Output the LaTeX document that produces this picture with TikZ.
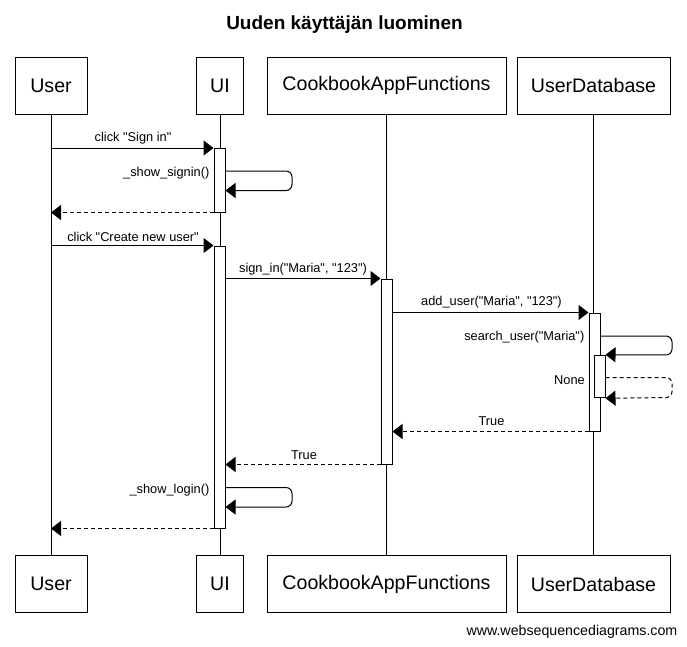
\documentclass[tikz,border=0pt]{standalone}
\usepackage{fontspec}
\setmainfont{Liberation Sans}[Ligatures=TeXOff]
\usetikzlibrary{arrows.meta}
\begin{document}
\begin{tikzpicture}[x=1pt,y=-1pt,
  every node/.style={font=\fontsize{12.8}{14}\selectfont, inner sep=0pt},
  part/.style={draw, line width=1pt, fill=white, minimum height=56.5pt, font=\fontsize{19.6}{22}\selectfont},
  act/.style={draw, line width=1pt, fill=white, minimum width=11pt},
  msg/.style={line width=1pt, -{Triangle[length=10pt,width=15pt]}},
  ret/.style={msg, dash pattern=on 4pt off 3pt},
  life/.style={line width=1pt},
  lbl/.style={anchor=center},
  lblr/.style={anchor=east}]
\useasboundingbox (0,0) rectangle (687,646);
\fill[white] (0,0) rectangle (687,646);

\node[font=\bfseries\fontsize{19}{22}\selectfont] (title) at (344.5,25) {Uuden käyttäjän luominen};

% participants
\node[part, minimum width=72pt]  (userT) at (51,85.8) {User};
\node[part, minimum width=47pt]  (uiT)   at (220,85.8) {UI};
\node[part, minimum width=239pt] (cookT) at (386.5,85.8) {CookbookAppFunctions};
\node[part, minimum width=153pt] (dbT)   at (593.5,85.8) {UserDatabase};
\node[part, minimum width=72pt]  (userB) at (51,584) {User};
\node[part, minimum width=47pt]  (uiB)   at (220,584) {UI};
\node[part, minimum width=239pt] (cookB) at (386.5,584) {CookbookAppFunctions};
\node[part, minimum width=153pt] (dbB)   at (593.5,584) {UserDatabase};

% lifelines
\draw[life] (userT.south) -- (userB.north);
\draw[life] (uiT.south) -- (uiB.north);
\draw[life] (cookT.south) -- (cookB.north);
\draw[life] (dbT.south) -- (dbB.north);

% activations
\node[act, minimum height=63.5pt]  (a1) at (219.5,180.25) {};
\node[act, minimum height=282pt]   (a2) at (219.5,387) {};
\node[act, minimum height=185pt]   (a3) at (386.5,371.5) {};
\node[act, minimum height=118pt]   (a4) at (594.5,372) {};
\node[act, minimum height=42.5pt]  (a5) at (599.5,376.5) {};

% loop turning points
\coordinate (l1a) at (292,171);
\coordinate (l1b) at (292,190.5);
\coordinate (l2a) at (672,336);
\coordinate (l2b) at (672,355);
\coordinate (l3a) at (672,377.5);
\coordinate (l3b) at (672,397.5);
\coordinate (l4a) at (292,487.5);
\coordinate (l4b) at (292,507);

% messages
\draw[msg] (userT.south |- a1.north) -- (a1.north west);
\node[lbl] (m1) at (133,138.5) {click "Sign in"};

\draw[msg, rounded corners=6pt] (a1.east |- l1a) -- (l1a) -- (l1b) -- (a1.east |- l1b);
\node[lblr] (m2) at (209.5,173) {\_show\_signin()};

\draw[ret] (a1.south west) -- (userT.south |- a1.south);

\draw[msg] (userT.south |- a2.north) -- (a2.north west);
\node[lbl] (m3) at (133,236.5) {click "Create new user"};

\draw[msg] (a2.east |- a3.north) -- (a3.north west);
\node[lbl] (m4) at (303,269.5) {sign\_in("Maria", "123")};

\draw[msg] (a3.east |- a4.north) -- (a4.north west);
\node[lbl] (m5) at (491.5,302.5) {add\_user("Maria", "123")};

\draw[msg, rounded corners=6pt] (a4.east |- l2a) -- (l2a) -- (l2b) -- (a5.north east);
\node[lblr] (m6) at (584.5,337) {search\_user("Maria")};

\draw[ret, rounded corners=6pt] (a5.east |- l3a) -- (l3a) -- (l3b) -- (a5.south east);
\node[lblr] (m7) at (585,380) {None};

\draw[ret] (a4.south west) -- (a3.east |- a4.south);
\node[lbl] (m8) at (491.5,421.5) {True};

\draw[ret] (a3.south west) -- (a2.east |- a3.south);
\node[lbl] (m9) at (304,455) {True};

\draw[msg, rounded corners=6pt] (a2.east |- l4a) -- (l4a) -- (l4b) -- (a2.east |- l4b);
\node[lblr] (m10) at (209.5,490) {\_show\_login()};

\draw[ret] (a2.south west) -- (userT.south |- a2.south);

\node[anchor=east, font=\fontsize{14.2}{16}\selectfont] (footer) at (677.5,632) {www.websequencediagrams.com};
\end{tikzpicture}
\end{document}
